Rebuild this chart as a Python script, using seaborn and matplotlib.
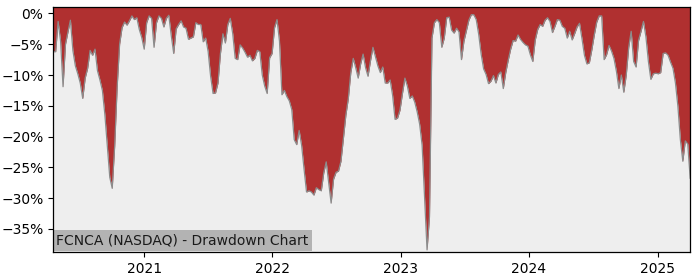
import matplotlib
matplotlib.use("Agg")
import matplotlib.pyplot as plt
import matplotlib.dates as mdates
import matplotlib.ticker as mticker
import numpy as np
import pandas as pd
import seaborn as sns

# Weekly drawdown (%) of FCNCA
start_date = "2020-04-17"
frequency = "7D"
drawdown = [
    -6.2, -6.2, -1.3, -4.5, -11.9, -5.0, -3.0, -1.1, -6.0, -8.5,
    -9.8, -11.3, -13.8, -10.5, -8.9, -6.0, -6.8, -5.8, -9.3, -10.8,
    -12.5, -16.4, -21.6, -26.6, -28.4, -21.5, -12.0, -5.0, -2.3, -1.4,
    -1.9, -1.2, -0.4, -1.0, -0.7, -2.6, -3.9, -5.8, -1.5, -0.4,
    -0.8, -5.5, -1.5, -0.4, -0.8, -2.2, -0.8, -0.3, -3.6, -6.5,
    -2.5, -1.8, -1.2, -2.2, -2.4, -4.2, -4.0, -3.8, -1.5, -1.8,
    -1.8, -4.6, -4.0, -6.2, -10.2, -13.0, -12.9, -11.3, -6.5, -3.3,
    -4.8, -1.8, -0.8, -3.3, -7.3, -7.5, -5.1, -5.6, -6.3, -7.1,
    -6.8, -7.7, -7.3, -6.0, -6.2, -10.0, -11.8, -13.0, -7.2, -6.5,
    -2.3, -1.0, -4.5, -13.2, -12.5, -13.5, -14.2, -15.6, -20.5, -21.3,
    -19.0, -21.4, -25.3, -29.0, -28.8, -29.0, -29.5, -28.3, -28.6, -28.8,
    -25.9, -24.1, -27.5, -30.8, -26.9, -25.8, -25.6, -24.0, -20.3, -16.5,
    -13.8, -9.6, -7.3, -8.8, -10.5, -8.2, -6.6, -8.8, -10.2, -7.7,
    -5.5, -7.0, -8.5, -9.6, -8.7, -11.3, -11.3, -10.8, -13.3, -17.2,
    -17.0, -15.7, -13.0, -10.5, -11.8, -13.8, -13.4, -14.4, -16.0, -18.0,
    -21.4, -30.0, -38.4, -33.0, -4.0, -1.5, -1.0, -1.5, -5.5, -4.0,
    -0.7, -0.6, -2.7, -3.2, -2.4, -3.0, -7.5, -4.5, -2.8, -1.1,
    -0.2, -0.2, -1.0, -3.4, -6.6, -9.0, -9.9, -11.4, -11.0, -10.1,
    -11.3, -9.9, -9.5, -12.2, -9.6, -7.6, -5.8, -4.4, -4.5, -3.5,
    -4.2, -4.7, -5.1, -5.3, -6.7, -7.8, -4.3, -2.6, -1.8, -2.1,
    -1.1, -0.7, -1.3, -3.1, -2.1, -1.0, -1.1, -2.1, -2.4, -4.0,
    -2.9, -4.3, -3.3, -2.2, -1.6, -4.1, -6.8, -8.2, -8.0, -5.9,
    -3.5, -1.4, -0.4, -0.4, -7.5, -6.7, -5.2, -6.1, -7.3, -9.4,
    -12.2, -10.0, -12.8, -10.0, -5.5, -2.9, -7.8, -8.7, -4.4, -2.9,
    -1.3, -3.8, -7.8, -10.7, -9.8, -9.7, -9.8, -9.6, -6.5, -6.4,
    -6.8, -7.9, -8.9, -11.3, -15.1, -20.5, -24.0, -20.7, -21.2, -26.8,
]
title_text = "FCNCA (NASDAQ) - Drawdown Chart"

dates = pd.date_range(start=start_date, periods=len(drawdown), freq=frequency)
df = pd.DataFrame({"date": dates, "drawdown": drawdown})

sns.set_theme(style="ticks", rc={"axes.facecolor": "#eeeeee"})
plt.rcParams["font.family"] = ["DejaVu Sans"]

fig = plt.figure(figsize=(7, 2.8), dpi=100)
ax = fig.add_axes([0.076, 0.099, 0.910, 0.875])
ax.set_facecolor("#eeeeee")

ymin = min(drawdown) * 1.01
ymax = 1.0

ax.fill_between(df["date"], df["drawdown"], ymax, color="#b03030", linewidth=0, zorder=2)
sns.lineplot(data=df, x="date", y="drawdown", ax=ax, color="#8c8c8c",
             linewidth=0.9, zorder=3)

ax.set_xlim(df["date"].iloc[0], df["date"].iloc[-1])
ax.set_ylim(ymin, ymax)

ax.yaxis.set_major_locator(mticker.MultipleLocator(5))
ax.yaxis.set_major_formatter(mticker.FuncFormatter(
    lambda v, p: ("%d%%" % round(v)).replace("-", "\u2212")))
ax.xaxis.set_major_locator(mdates.YearLocator())
ax.xaxis.set_major_formatter(mdates.DateFormatter("%Y"))

ax.set_xlabel("")
ax.set_ylabel("")
ax.tick_params(axis="both", labelsize=10, length=3.5, width=0.8, colors="black")
for s in ax.spines.values():
    s.set_visible(True)
    s.set_color("black")
    s.set_linewidth(0.9)
    s.set_zorder(6)

ax.text(0.005, 0.018, title_text, transform=ax.transAxes, fontsize=10,
        color="#1a1a1a", ha="left", va="bottom", zorder=5,
        bbox=dict(facecolor="#b3b3b3", edgecolor="none", pad=2.5))

fig.savefig("out.png", dpi=100)
